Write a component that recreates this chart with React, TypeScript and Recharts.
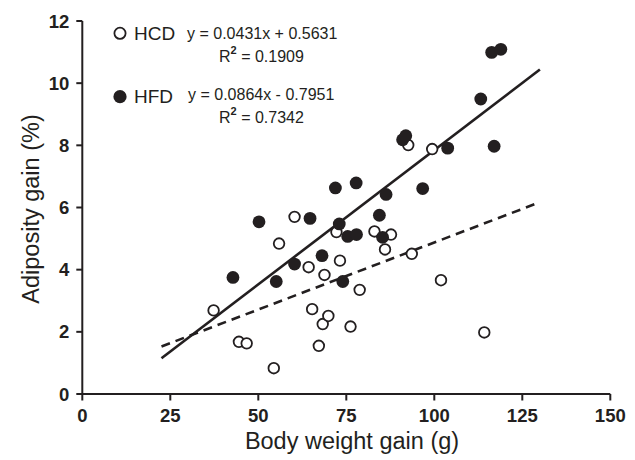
import React from "react";
import { ScatterChart, Scatter, XAxis, YAxis } from "recharts";

const INK = "#231f20";

// HCD (open circles): body weight gain (g), adiposity gain (%)
const hcdX = [37.3, 44.5, 46.7, 54.4, 55.9, 60.3, 64.3, 65.3, 67.2, 68.3, 68.8, 69.9, 72.2, 73.2, 76.2, 78.8, 83.0, 86.0, 87.7, 92.6, 93.6, 99.4, 101.9, 114.2];
const hcdY = [2.69, 1.68, 1.63, 0.83, 4.84, 5.7, 4.08, 2.73, 1.55, 2.25, 3.83, 2.51, 5.21, 4.29, 2.17, 3.35, 5.23, 4.65, 5.13, 8.01, 4.51, 7.88, 3.66, 1.98];

// HFD (filled circles)
const hfdX = [42.8, 50.2, 55.1, 60.3, 64.7, 68.1, 71.9, 73.0, 74.0, 75.4, 77.9, 77.8, 84.4, 85.3, 86.3, 91.0, 91.9, 96.7, 103.8, 113.2, 116.3, 117.0, 118.9];
const hfdY = [3.75, 5.54, 3.62, 4.18, 5.65, 4.45, 6.63, 5.47, 3.62, 5.07, 5.13, 6.79, 5.75, 5.04, 6.42, 8.18, 8.31, 6.61, 7.91, 9.49, 10.99, 7.97, 11.09];

// fitted lines, end points
const hcdFitX = [22.5, 130];
const hcdFitY = [1.53, 6.17];
const hfdFitX = [22.5, 130];
const hfdFitY = [1.15, 10.44];

const xTicks = [0, 25, 50, 75, 100, 125, 150];
const yTicks = [0, 2, 4, 6, 8, 10, 12];

const zip = (xs: number[], ys: number[]) => xs.map((x, i) => ({ x, y: ys[i] }));

const hcd = zip(hcdX, hcdY);
const hfd = zip(hfdX, hfdY);
const hcdFit = zip(hcdFitX, hcdFitY);
const hfdFit = zip(hfdFitX, hfdFitY);

const font = "'Liberation Sans', Arial, sans-serif";

const OpenDot = (p: any) => (
  <circle cx={p.cx} cy={p.cy} r={5.3} fill="#fff" stroke={INK} strokeWidth={1.8} />
);
const FilledDot = (p: any) => <circle cx={p.cx} cy={p.cy} r={6.4} fill={INK} />;
const NoDot = () => <g />;

export default function App() {
  return (
    <div style={{ position: "absolute", left: 0, top: 0, width: 635, height: 460, background: "#fff", fontFamily: font }}>
      <ScatterChart width={635} height={460} margin={{ top: 21, right: 24.7, bottom: 36, left: 0 }}>
        <XAxis
          type="number"
          dataKey="x"
          domain={[0, 150]}
          ticks={xTicks}
          height={30}
          axisLine={{ stroke: INK, strokeWidth: 2 }}
          tickLine={{ stroke: INK, strokeWidth: 2 }}
          tickSize={6.5}
          tickMargin={8}
          tick={{ fill: INK, fontSize: 18.5, fontWeight: 700, fontFamily: font }}
          allowDataOverflow
        />
        <YAxis
          type="number"
          dataKey="y"
          domain={[0, 12]}
          ticks={yTicks}
          width={82.3}
          axisLine={{ stroke: INK, strokeWidth: 2 }}
          tickLine={{ stroke: INK, strokeWidth: 2 }}
          tickSize={6}
          tickMargin={7}
          tick={{ fill: INK, fontSize: 18.5, fontWeight: 700, fontFamily: font }}
          allowDataOverflow
        />
        <Scatter data={hcdFit} isAnimationActive={false} shape={NoDot}
          line={{ stroke: INK, strokeWidth: 2.6, strokeDasharray: "9 6" }} />
        <Scatter data={hfdFit} isAnimationActive={false} shape={NoDot}
          line={{ stroke: INK, strokeWidth: 2.6 }} />
        <Scatter data={hcd} isAnimationActive={false} shape={OpenDot} />
        <Scatter data={hfd} isAnimationActive={false} shape={FilledDot} />
      </ScatterChart>
      <svg width={635} height={460} style={{ position: "absolute", left: 0, top: 0, pointerEvents: "none" }}>
        <g fontFamily={font} fill={INK}>
          <text x={30.5} y={209} fontSize={23.5} textAnchor="middle" dominantBaseline="central"
            transform="rotate(-90 30.5 209)">Adiposity gain (%)</text>
          <text x={352} y={441} fontSize={23.5} textAnchor="middle" dominantBaseline="central">Body weight gain (g)</text>

          <circle cx={120} cy={33.3} r={5.6} fill="#fff" stroke={INK} strokeWidth={1.8} />
          <text x={134} y={33.5} fontSize={19} dominantBaseline="central">HCD</text>
          <text x={187} y={33.5} fontSize={16} dominantBaseline="central">y = 0.0431x + 0.5631</text>
          <text x={219} y={56} fontSize={16} dominantBaseline="central">
            R<tspan fontSize={11} dy={-6} fontWeight={700}>2</tspan><tspan dy={6}> = 0.1909</tspan>
          </text>

          <circle cx={120} cy={96.7} r={6.6} fill={INK} />
          <text x={134} y={96.5} fontSize={19} dominantBaseline="central">HFD</text>
          <text x={188} y={94.3} fontSize={16} dominantBaseline="central">y = 0.0864x - 0.7951</text>
          <text x={219} y={117} fontSize={16} dominantBaseline="central">
            R<tspan fontSize={11} dy={-6} fontWeight={700}>2</tspan><tspan dy={6}> = 0.7342</tspan>
          </text>
        </g>
      </svg>
    </div>
  );
}
